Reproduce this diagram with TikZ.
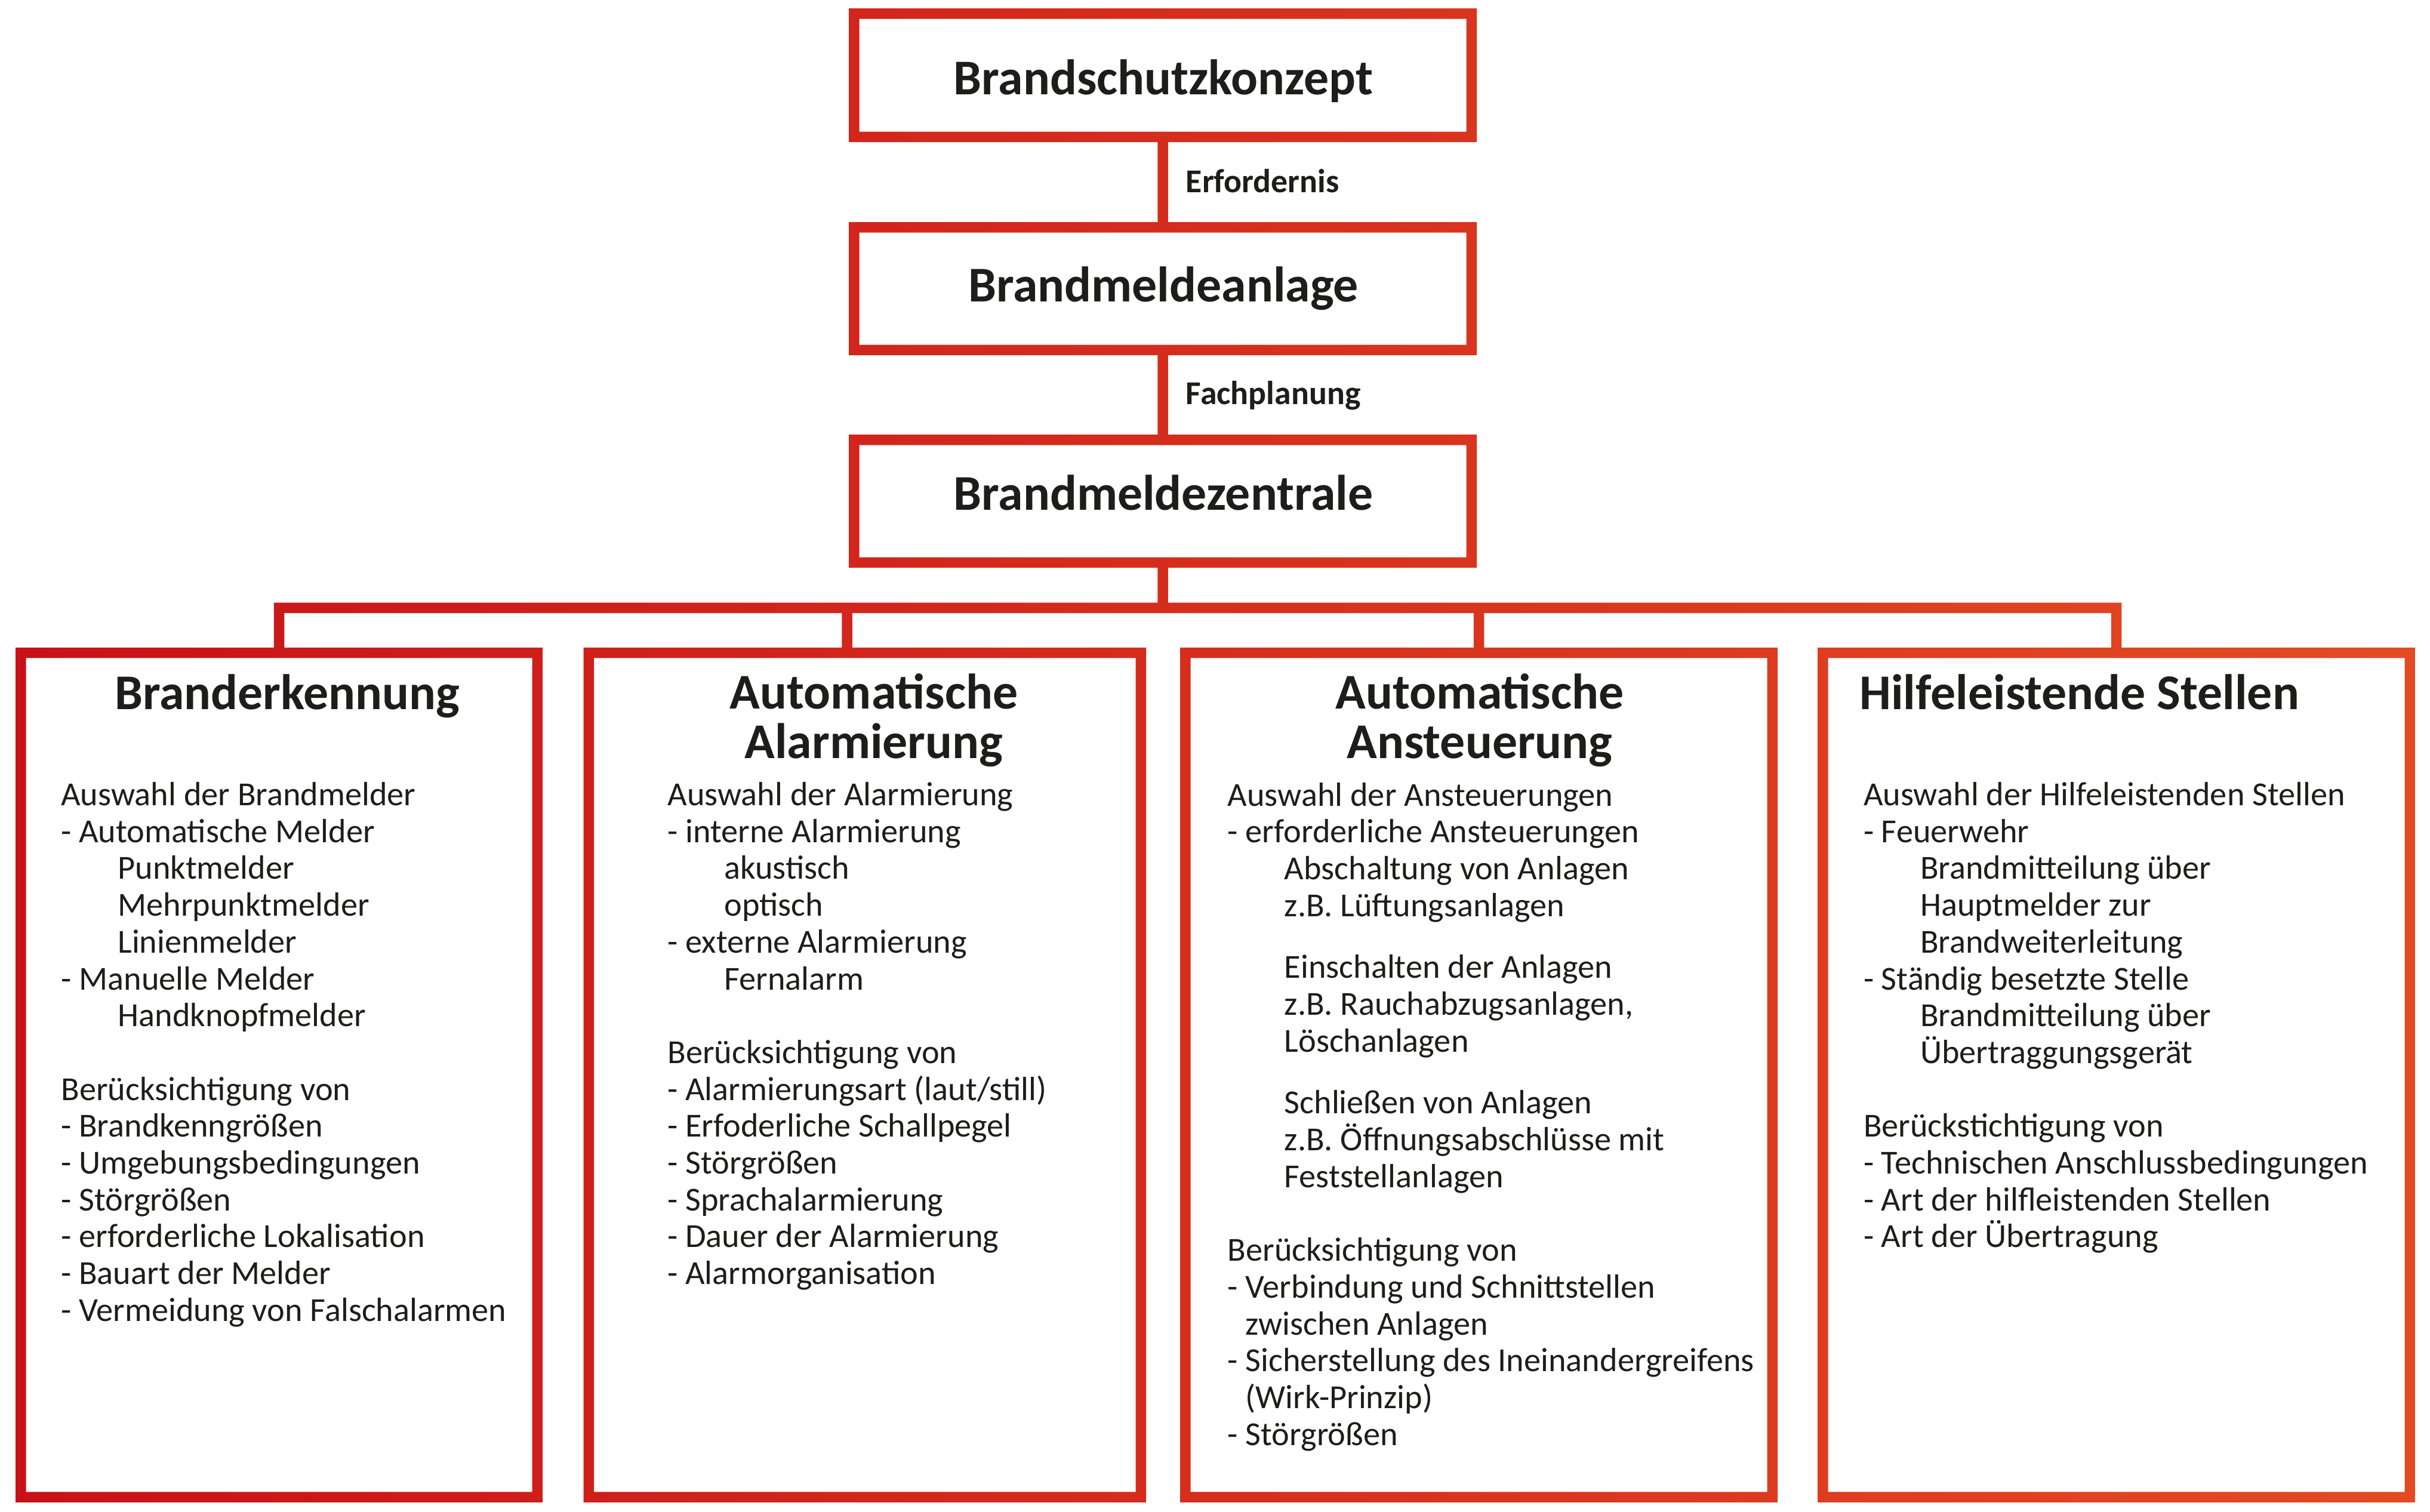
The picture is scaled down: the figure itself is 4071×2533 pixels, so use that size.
\documentclass[tikz,border=0pt]{standalone}
\usepackage{fontspec}
\setmainfont{Carlito}
\definecolor{gradL}{RGB}{200,17,24}
\definecolor{gradR}{RGB}{228,75,34}
\definecolor{txt}{HTML}{1D1D1B}
\newcommand{\subind}{\hspace*{47.5pt}}
\newcommand{\dashind}{\hphantom{-}\ }
\begin{document}
\begin{tikzpicture}[x=0.5pt,y=-0.5pt,
  boxshape/.style={rectangle, inner sep=0pt, outer sep=0pt},
  titletext/.style={text=txt, inner sep=0pt, font=\fontsize{41.9pt}{41.75pt}\selectfont\bfseries},
  bodytext/.style={text=txt, inner sep=0pt, anchor=base west, font=\fontsize{28.15pt}{30.85pt}\selectfont},
  labeltext/.style={text=txt, inner sep=0pt, anchor=base west, font=\fontsize{27.9pt}{30.65pt}\selectfont\bfseries},
]
\useasboundingbox (0,0) rectangle (4071,2533);
\fill[white] (0,0) rectangle (4071,2533);

% box geometry
\node[boxshape, minimum width=526pt, minimum height=112pt] (konzept) at (1948,126) {};
\node[boxshape, minimum width=526pt, minimum height=111.5pt] (anlage) at (1948,483.5) {};
\node[boxshape, minimum width=526pt, minimum height=111.5pt] (zentrale) at (1948,839.5) {};
\node[boxshape, minimum width=441.5pt, minimum height=716pt] (erk) at (467.5,1800.75) {};
\node[boxshape, minimum width=471.25pt, minimum height=716pt] (alarm) at (1448.75,1800.75) {};
\node[boxshape, minimum width=500.5pt, minimum height=716pt] (steuer) at (2477.5,1800.75) {};
\node[boxshape, minimum width=500.5pt, minimum height=716pt] (hilfe) at (3545.5,1800.75) {};

% junctions on the bus
\coordinate (bus) at (1948,1018.25);
\coordinate (j1) at (erk.north |- bus);
\coordinate (j2) at (1419,1018.25);
\coordinate (j3) at (steuer.north |- bus);
\coordinate (j4) at (hilfe.north |- bus);
\coordinate (a2) at (j2 |- alarm.north);

% outlines and connectors, filled with one horizontal gradient
\begin{scope}
  \clip \foreach \b in {konzept,anlage,zentrale,erk,alarm,steuer,hilfe} {
    (\b.north west) rectangle ([shift={(0,17.5)}]\b.north east)
    ([shift={(0,-17.5)}]\b.south west) rectangle (\b.south east)
    (\b.north west) rectangle ([shift={(17.5,0)}]\b.south west)
    ([shift={(-17.5,0)}]\b.north east) rectangle (\b.south east)
  }
        ([shift={(-8.75,-5)}]konzept.south) rectangle ([shift={(8.75,5)}]anlage.north)
        ([shift={(-8.75,-5)}]anlage.south) rectangle ([shift={(8.75,5)}]zentrale.north)
        ([shift={(-8.75,-5)}]zentrale.south) rectangle ([shift={(8.75,0)}]bus)
        ([shift={(-8.75,-8.75)}]j1) rectangle ([shift={(8.75,8.75)}]j4)
        ([shift={(-8.75,0)}]j1) rectangle ([shift={(8.75,5)}]erk.north)
        ([shift={(-8.75,0)}]j2) rectangle ([shift={(8.75,5)}]a2)
        ([shift={(-8.75,0)}]j3) rectangle ([shift={(8.75,5)}]steuer.north)
        ([shift={(-8.75,0)}]j4) rectangle ([shift={(8.75,5)}]hilfe.north);
  \shade[left color=gradL, right color=gradR] (0,0) rectangle (4071,2533);
\end{scope}

% top titles
\node[titletext, anchor=base] (tkonzept) at (1949,158) {Brandschutzkonzept};
\node[titletext, anchor=base] (tanlage) at (1949,505) {Brandmeldeanlage};
\node[titletext, anchor=base] (tzentrale) at (1949,854.5) {Brandmeldezentrale};

% connector labels
\node[labeltext] (lerf) at (1986.5,322.7) {Erfordernis};
\node[labeltext] (lfach) at (1986.5,677) {Fachplanung};

% column titles
\node[titletext, anchor=base] (terk) at (481,1188) {Branderkennung};
\node[titletext, anchor=base] (talarm) at (1464,1187) {\parbox[t]{500pt}{\centering Automatische\\Alarmierung}};
\node[titletext, anchor=base] (tsteuer) at (2479,1187) {\parbox[t]{500pt}{\centering Automatische\\Ansteuerung}};
\node[titletext, anchor=base west] (thilfe) at (3115,1188) {Hilfeleistende Stellen};

% column bodies
\node[bodytext] (berk) at (102,1349.5) {\parbox[t]{500pt}{%
Auswahl der Brandmelder\\
- Automatische Melder\\
\subind Punktmelder\\
\subind Mehrpunktmelder\\
\subind Linienmelder\\
- Manuelle Melder\\
\subind Handknopfmelder\\[30.85pt]
Berücksichtigung von\\
- Brandkenngrößen\\
- Umgebungsbedingungen\\
- Störgrößen\\
- erforderliche Lokalisation\\
- Bauart der Melder\\
- Vermeidung von Falschalarmen}};

\node[bodytext] (balarm) at (1118,1349.5) {\parbox[t]{500pt}{%
Auswahl der Alarmierung\\
- interne Alarmierung\\
\subind akustisch\\
\subind optisch\\
- externe Alarmierung\\
\subind Fernalarm\\[30.85pt]
Berücksichtigung von\\
- Alarmierungsart (laut/still)\\
- Erfoderliche Schallpegel\\
- Störgrößen\\
- Sprachalarmierung\\
- Dauer der Alarmierung\\
- Alarmorganisation}};

\node[bodytext] (bsteuer) at (2056.4,1350) {\parbox[t]{500pt}{%
Auswahl der Ansteuerungen\\
- erforderliche Ansteuerungen\\
\subind Abschaltung von Anlagen\\
\subind z.B. Lüftungsanlagen\\[21pt]
\subind Einschalten der Anlagen\\
\subind z.B. Rauchabzugsanlagen,\\
\subind Löschanlagen\\[21pt]
\subind Schließen von Anlagen\\
\subind z.B. Öffnungsabschlüsse mit\\
\subind Feststellanlagen\\[30.85pt]
Berücksichtigung von\\
- Verbindung und Schnittstellen\\
\dashind zwischen Anlagen\\
- Sicherstellung des Ineinandergreifens\\
\dashind (Wirk-Prinzip)\\
- Störgrößen}};

\node[bodytext] (bhilfe) at (3121.6,1349.5) {\parbox[t]{500pt}{%
Auswahl der Hilfeleistenden Stellen\\
- Feuerwehr\\
\subind Brandmitteilung über\\
\subind Hauptmelder zur\\
\subind Brandweiterleitung\\
- Ständig besetzte Stelle\\
\subind Brandmitteilung über\\
\subind Übertraggungsgerät\\[30.85pt]
Berückstichtigung von\\
- Technischen Anschlussbedingungen\\
- Art der hilfleistenden Stellen\\
- Art der Übertragung}};
\end{tikzpicture}
\end{document}
